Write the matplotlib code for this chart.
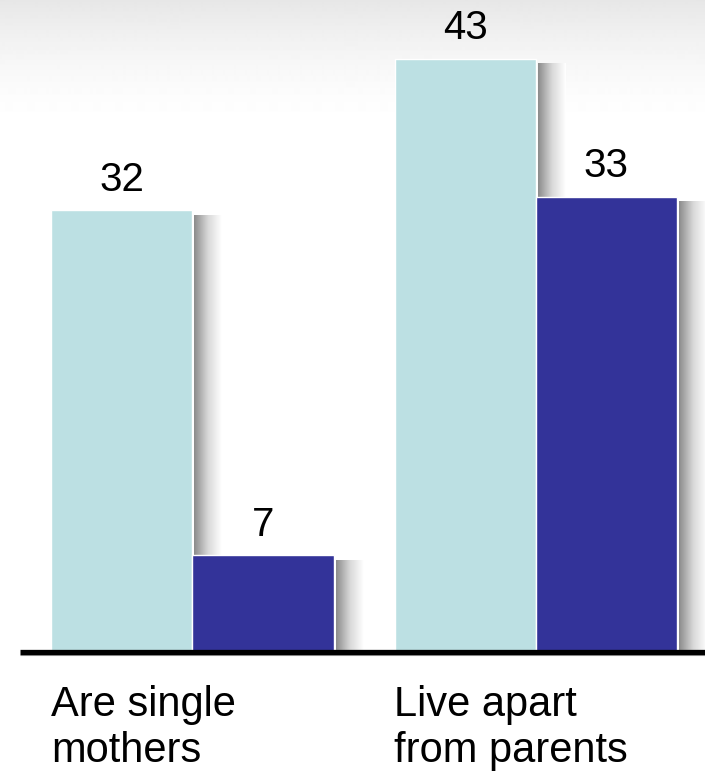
import numpy as np
import matplotlib.pyplot as plt
from matplotlib.colors import LinearSegmentedColormap

plt.rcParams['font.family'] = ['Liberation Sans', 'DejaVu Sans']

categories = ["Are single\nmothers", "Live apart\nfrom parents"]
series_a = [32, 43]   # light bars
series_b = [7, 33]    # dark bars

color_a = "#bce0e3"
color_b = "#333399"

W, H = 705, 772
fig = plt.figure(figsize=(W / 100, H / 100), dpi=100)

# soft grey wash at the top of the page
bg = fig.add_axes([0, 0, 1, 1], zorder=0)
bg.set_axis_off()
grad = np.ones((H, 1))
top_band = 130
t = np.linspace(0, 1, top_band)
grad[:top_band, 0] = 0.905 + 0.095 * (1 - (1 - t) ** 1.6)
bg.imshow(grad, cmap="gray", vmin=0, vmax=1, aspect="auto",
          extent=[0, 1, 0, 1], origin="upper", interpolation="bilinear")

base_px = 652
ax = fig.add_axes([0, (H - base_px) / H, 1, base_px / H], zorder=1)
ax.patch.set_alpha(0)
ax.set_axis_off()

spacing = 343.0
center0 = 192.5
ax.set_xlim(-center0 / spacing, (W - center0) / spacing)
ax.set_ylim(0, base_px / 13.8)

x = np.arange(len(categories))
bw = 141 / spacing
shadow_w = 28 / spacing
shade = LinearSegmentedColormap.from_list("shade", ["#8c8c8c", "#d8d8d8", "#ffffff"])
shade_img = np.linspace(0, 1, 64)[None, :]

def draw_bars(xs, vals, color, z):
    for xi, v in zip(xs, vals):
        left = xi
        ax.imshow(shade_img, cmap=shade, aspect="auto", zorder=z - 0.5,
                  extent=[left + bw + 2 / spacing, left + bw + 2 / spacing + shadow_w,
                          0, v - 0.35])
    ax.bar(xs, vals, width=bw, align="edge", color=color, edgecolor="white",
           linewidth=1.0, zorder=z)
    for xi, v in zip(xs, vals):
        ax.annotate(f"{v}", xy=(xi + bw / 2, v), xytext=(0, 14),
                    textcoords="offset points", ha="center", va="baseline",
                    fontsize=29, color="black", zorder=10)

draw_bars(x - bw, series_a, color_a, 3)
draw_bars(x, series_b, color_b, 5)

# baseline
ax.plot([20 / W, 1], [0, 0], transform=ax.transAxes, color="#000000",
        linewidth=3.8, solid_capstyle="butt", zorder=8, clip_on=False)
ax.plot([20 / W, 1], [-0.0045, -0.0045], transform=ax.transAxes, color="#9a9a9a",
        linewidth=0.8, solid_capstyle="butt", zorder=7, clip_on=False)

# category labels under each group
for xi, name in zip(x, categories):
    ax.annotate(name, xy=(xi - bw, 0), xytext=(0, -24),
                textcoords="offset points", ha="left", va="top",
                fontsize=30, color="black", linespacing=1.17,
                annotation_clip=False)

fig.savefig("out.png", dpi=100)
